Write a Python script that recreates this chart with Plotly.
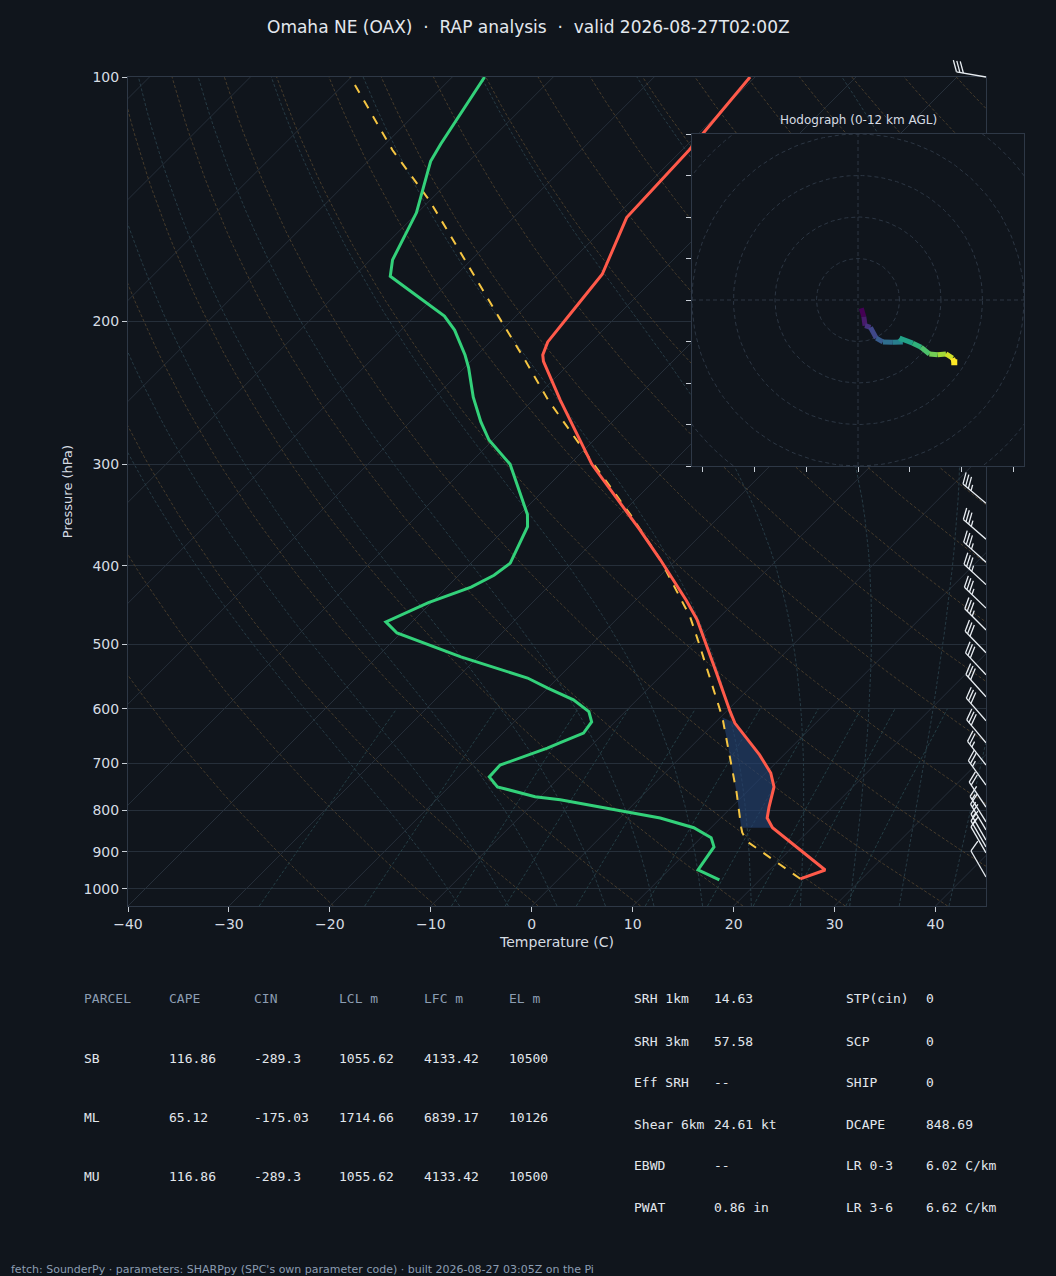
import numpy as np
import plotly.graph_objects as go
from plotly.colors import sample_colorscale

# ---------------- data ----------------
TITLE = "Omaha NE (OAX)  ·  RAP analysis  ·  valid 2026-08-27T02:00Z"
p_temp = [972, 948, 841, 818, 793, 749, 720, 684, 625, 605, 542, 466, 441, 393, 361, 332, 300,
          250, 224, 220, 212, 197, 175, 149, 123, 100]
t_temp = [23.9, 25.5, 16.1, 14.6, 13.7, 12.2, 10.5, 7.6, 2.0, 0.4, -4.8, -12.0, -15.0, -21.6, -26.6,
          -31.7, -37.8, -47.3, -52.8, -53.5, -54.3, -54.8, -55.6, -58.8, -59.3, -60.5]
p_dew = [975, 948, 888, 865, 841, 818, 777, 770, 749, 728, 704, 671, 661, 643, 623, 605, 585, 566,
         550, 518, 484, 469, 444, 425, 411, 397, 358, 346, 300, 280, 266, 248, 228, 220, 205, 197,
         176, 168, 147, 127, 121, 100]
t_dew = [16.0, 12.9, 12.2, 11.0, 8.3, 4.0, -7.7, -10.5, -15.2, -17.0, -17.1, -14.1, -13.4, -12.0,
         -12.3, -13.6, -16.3, -20.0, -23.0, -31.7, -40.4, -42.6, -40.3, -37.6, -36.5, -36.1, -38.0,
         -39.2, -45.9, -50.4, -53.0, -56.2, -59.6, -61.2, -64.7, -67.1, -76.4, -77.8, -80.1, -83.8,
         -84.5, -86.8]
p_parcel = [972, 875, 853, 841, 762, 651, 615, 498, 462, 393, 346, 300, 250, 223, 199, 142, 123, 100]
t_parcel = [23.9, 15.0, 13.6, 13.0, 9.1, 2.6, 0.2, -9.5, -13.0, -21.6, -29.0, -37.6, -48.5, -54.8,
            -61.2, -80.0, -88.7, -100.1]
# shaded layer between parcel and environment
p_shade_env = [841, 818, 793, 749, 720, 684, 625]
t_shade_env = [16.1, 14.6, 13.7, 12.2, 10.5, 7.6, 2.0]
p_shade_par = [615, 651, 762, 841]
t_shade_par = [0.2, 2.6, 9.1, 13.0]

# wind barbs
p_wind = [100, 335, 371, 396, 422, 451, 480, 512, 545, 580, 621, 661, 704, 745, 793, 827, 846,
          871, 888, 903, 967]
wdir = [280, 310, 311, 312, 313, 314, 315, 316, 317, 318, 319, 320, 322, 324, 326, 328, 329, 330,
        330, 330, 330]
wspd = [30, 35, 35, 35, 35, 35, 35, 30, 30, 30, 30, 30, 25, 25, 20, 15, 15, 15, 15, 10, 10]

# hodograph (u, v)
hodo_u = [0.8, 1.4, 1.7, 3.0, 4.4, 6.0, 8.4, 10.8, 10.0, 13.2, 15.2, 17.2, 19.2, 21.2, 22.8, 23.2]
hodo_v = [-2.0, -4.0, -6.2, -6.6, -9.2, -10.1, -10.2, -10.1, -9.2, -10.4, -11.4, -13.0, -13.2,
          -13.0, -14.0, -15.0]

# parameter tables
parcel_header = ["PARCEL", "CAPE", "CIN", "LCL m", "LFC m", "EL m"]
parcel_rows = [["SB", "116.86", "-289.3", "1055.62", "4133.42", "10500"],
               ["ML", "65.12", "-175.03", "1714.66", "6839.17", "10126"],
               ["MU", "116.86", "-289.3", "1055.62", "4133.42", "10500"]]
param_left = [("SRH 1km", "14.63"), ("SRH 3km", "57.58"), ("Eff SRH", "--"),
              ("Shear 6km", "24.61 kt"), ("EBWD", "--"), ("PWAT", "0.86 in")]
param_right = [("STP(cin)", "0"), ("SCP", "0"), ("SHIP", "0"), ("DCAPE", "848.69"),
               ("LR 0-3", "6.02 C/km"), ("LR 3-6", "6.62 C/km")]
FOOTER = "fetch: SounderPy · parameters: SHARPpy (SPC's own parameter code) · built 2026-08-27 03:05Z on the Pi"

# ---------------- geometry ----------------
W, H = 1056, 1276
L = 128
MAINTOP, MAINBOT = 77, 906
T = 50                      # paper top (above main plot, room for top barb)
PW, PH = 896, MAINBOT - T   # paper area
MAINH = MAINBOT - MAINTOP
MAINW = 858
PBOT = 1050.0
PTOP = 100.0
XMIN, XMAX = -40, 45
PXPERC = MAINW / (XMAX - XMIN)
PXPERDEC = MAINH / np.log10(PBOT / PTOP)
SKEW = PXPERDEC / PXPERC   # 45 degree skew, deg C per decade
HR = 40                    # hodograph half range


def skx(t, p):
    return np.asarray(t, float) + SKEW * np.log10(PBOT / np.asarray(p, float))


BG = "#10151c"
GRID = "#262f3a"
DASH = "3px,2px"
fig = go.Figure()

# isotherms
pp = np.array([PBOT, PTOP])
for t0 in range(-130, 50, 10):
    fig.add_trace(go.Scatter(x=skx([t0, t0], pp), y=pp, mode="lines",
                             line=dict(color=GRID, width=1), hoverinfo="skip", showlegend=False))
# dry adiabats
pl = np.logspace(np.log10(PBOT), np.log10(PTOP), 60)
for th in range(250, 480, 10):
    tt = th * (pl / 1000.0) ** 0.2857 - 273.15
    fig.add_trace(go.Scatter(x=skx(tt, pl), y=pl, mode="lines",
                             line=dict(color="#463b2b", width=1, dash=DASH),
                             hoverinfo="skip", showlegend=False))


# moist adiabats
def es(tc):
    return 6.112 * np.exp(17.67 * tc / (tc + 243.5))


def moist(t1000, plev):
    Rd, Cp, Lv, eps = 287.04, 1005.7, 2.501e6, 0.622
    out = []
    for direction in (1, -1):
        T_ = t1000 + 273.15
        p = 1000.0
        target = plev[plev <= 1000] if direction == 1 else plev[plev > 1000]
        target = sorted(target, reverse=(direction == 1))
        for pt in target:
            while abs(p - pt) > 1e-6:
                dp = max(-2.0, pt - p) if direction == 1 else min(2.0, pt - p)
                rs = eps * es(T_ - 273.15) / (p - es(T_ - 273.15))
                dtdp = (Rd * T_ + Lv * rs) / (Cp + Lv * Lv * rs * eps / (Rd * T_ * T_)) / p
                T_ += dtdp * dp
                p += dp
            out.append((pt, T_ - 273.15))
    out.sort(key=lambda a: -a[0])
    return np.array([a[0] for a in out]), np.array([a[1] for a in out])


pm = np.logspace(np.log10(PBOT), np.log10(PTOP), 50)
for t0 in range(-10, 46, 5):
    ps, ts = moist(t0, pm)
    fig.add_trace(go.Scatter(x=skx(ts, ps), y=ps, mode="lines",
                             line=dict(color="#263a44", width=1, dash=DASH),
                             hoverinfo="skip", showlegend=False))
# mixing ratio lines
pw = np.linspace(PBOT, 600, 20)
for w in [0.4, 1, 2, 3, 5, 8, 12, 16, 20, 28]:
    e = pw * (w / 1000.0) / (0.622 + w / 1000.0)
    a = np.log(e / 6.112)
    td = 243.5 * a / (17.67 - a)
    fig.add_trace(go.Scatter(x=skx(td, pw), y=pw, mode="lines",
                             line=dict(color="#233d44", width=1, dash=DASH),
                             hoverinfo="skip", showlegend=False))

# shading
fig.add_trace(go.Scatter(x=np.concatenate([skx(t_shade_env, p_shade_env), skx(t_shade_par, p_shade_par)]),
                         y=p_shade_env + p_shade_par, mode="lines", fill="toself",
                         fillcolor="rgba(35,65,110,0.65)", line=dict(width=0),
                         hoverinfo="skip", showlegend=False))
# profiles
fig.add_trace(go.Scatter(x=skx(t_parcel, p_parcel), y=p_parcel, mode="lines",
                         line=dict(color="#f5c542", width=2, dash="dash"), showlegend=False))
fig.add_trace(go.Scatter(x=skx(t_dew, p_dew), y=p_dew, mode="lines",
                         line=dict(color="#33d17a", width=3), showlegend=False))
fig.add_trace(go.Scatter(x=skx(t_temp, p_temp), y=p_temp, mode="lines",
                         line=dict(color="#ff5a4a", width=3), showlegend=False))

# hodograph (opaque panel background, rings, trace)
fig.add_trace(go.Scatter(x=[-HR, HR, HR, -HR, -HR], y=[-HR, -HR, HR, HR, -HR], mode="lines",
                         fill="toself", fillcolor=BG, line=dict(width=0),
                         xaxis="x2", yaxis="y2", hoverinfo="skip", showlegend=False))
th = np.linspace(0, 2 * np.pi, 181)
for r in [10, 20, 30, 40, 50, 60]:
    fig.add_trace(go.Scatter(x=r * np.cos(th), y=r * np.sin(th), mode="lines",
                             line=dict(color="#2c3643", width=1, dash="4px,3px"),
                             xaxis="x2", yaxis="y2", hoverinfo="skip", showlegend=False))
fig.add_trace(go.Scatter(x=[-HR, HR, None, 0, 0], y=[0, 0, None, -HR, HR], mode="lines",
                         line=dict(color="#2c3643", width=1, dash="4px,3px"),
                         xaxis="x2", yaxis="y2", hoverinfo="skip", showlegend=False))
cols = sample_colorscale("Viridis", list(np.linspace(0, 1, len(hodo_u) - 1)))
for i in range(len(hodo_u) - 1):
    fig.add_trace(go.Scatter(x=hodo_u[i:i + 2], y=hodo_v[i:i + 2], mode="lines",
                             line=dict(color=cols[i], width=5),
                             xaxis="x2", yaxis="y2", hoverinfo="skip", showlegend=False))
fig.add_trace(go.Scatter(x=[hodo_u[-1]], y=[hodo_v[-1]], mode="markers",
                         marker=dict(color="#fde725", size=6, symbol="square"),
                         xaxis="x2", yaxis="y2", hoverinfo="skip", showlegend=False))

# wind barbs on a pixel-space overlay axis
bx, by = [], []
STAFF = 30
for p, d, s in zip(p_wind, wdir, wspd):
    x0 = MAINW
    y0 = PXPERDEC * np.log10(PBOT / p)
    ang = np.deg2rad(90 - d)  # staff points toward where wind comes from
    ux, uy = np.cos(ang), np.sin(ang)
    x1, y1 = x0 + STAFF * ux, y0 + STAFF * uy
    bx += [x0, x1, None]
    by += [y0, y1, None]
    fa = ang - np.deg2rad(65)
    fx, fy = np.cos(fa), np.sin(fa)
    n_full, half = s // 10, (s % 10) >= 5
    pos = 0.0
    for k in range(n_full):
        sx, sy = x1 - pos * ux, y1 - pos * uy
        bx += [sx, sx + 12 * fx, None]
        by += [sy, sy + 12 * fy, None]
        pos += 3.5
    if half:
        if n_full == 0:
            pos += 3.5
        sx, sy = x1 - pos * ux, y1 - pos * uy
        bx += [sx, sx + 6 * fx, None]
        by += [sy, sy + 6 * fy, None]
fig.add_trace(go.Scatter(x=bx, y=by, mode="lines", line=dict(color="#e8edf2", width=1.3),
                         xaxis="x3", yaxis="y3", hoverinfo="skip", showlegend=False))


def px(x):
    return (x - L) / PW


def py(y):
    return (T + PH - y) / PH


ann = []
ann.append(dict(text=TITLE, x=px(528), y=py(27), xref="paper", yref="paper", showarrow=False,
                xanchor="center", yanchor="middle",
                font=dict(size=17, color="#e3e8ee", family="DejaVu Sans")))
ann.append(dict(text="Hodograph (0-12 km AGL)", x=px(858), y=py(120), xref="paper", yref="paper",
                xanchor="center", yanchor="middle",
                showarrow=False, font=dict(size=12, color="#d6dce3", family="DejaVu Sans")))
mono = "DejaVu Sans Mono"
colx = [84, 169, 254, 339, 424, 509]
rowy = [999, 1058, 1117, 1176]
for j, h in enumerate(parcel_header):
    ann.append(dict(text=h, x=px(colx[j] - 2), y=py(rowy[0]), xref="paper", yref="paper", xanchor="left",
                    yanchor="middle", showarrow=False, font=dict(size=13, color="#8c9db2", family=mono)))
for i, row in enumerate(parcel_rows):
    for j, v in enumerate(row):
        ann.append(dict(text=v, x=px(colx[j] - 2), y=py(rowy[i + 1]), xref="paper", yref="paper",
                        xanchor="left", yanchor="middle", showarrow=False,
                        font=dict(size=13, color="#e2e7ed", family=mono)))
prow = [999, 1041, 1082, 1124, 1165, 1207]
for (xa, xb), lst in (((632, 712), param_left), ((844, 924), param_right)):
    for i, (k, v) in enumerate(lst):
        ann.append(dict(text=k, x=px(xa), y=py(prow[i]), xref="paper", yref="paper", xanchor="left",
                        yanchor="middle", showarrow=False, font=dict(size=13, color="#e2e7ed", family=mono)))
        ann.append(dict(text=v, x=px(xb), y=py(prow[i]), xref="paper", yref="paper", xanchor="left",
                        yanchor="middle", showarrow=False, font=dict(size=13, color="#e2e7ed", family=mono)))
ann.append(dict(text=FOOTER, x=px(9), y=py(1269), xref="paper", yref="paper", xanchor="left",
                yanchor="middle", showarrow=False, font=dict(size=11, color="#8c9db2", family="DejaVu Sans")))

xd_main = [0, MAINW / PW]
yd_main = [0, MAINH / PH]
fig.update_layout(
    width=W, height=H, margin=dict(l=L, r=W - L - PW, t=T, b=H - T - PH),
    paper_bgcolor=BG, plot_bgcolor="rgba(0,0,0,0)", annotations=ann,
    font=dict(family="DejaVu Sans", color="#d6dce3", size=14),
    xaxis=dict(domain=xd_main, range=[XMIN, XMAX], tickvals=list(range(-40, 45, 10)),
               showgrid=False, zeroline=False, showline=True, linecolor="#2e3846", mirror=True,
               ticks="outside", ticklen=5, tickcolor="#c8ced6",
               title=dict(text="Temperature (C)", font=dict(size=14), standoff=6)),
    yaxis=dict(domain=yd_main, type="log", range=[np.log10(PBOT), np.log10(PTOP)],
               tickvals=[100, 200, 300, 400, 500, 600, 700, 800, 900, 1000],
               ticktext=["100", "200", "300", "400", "500", "600", "700", "800", "900", "1000"],
               showgrid=True, gridcolor=GRID, zeroline=False, showline=True, linecolor="#2e3846",
               mirror=True, ticks="outside", ticklen=5, tickcolor="#c8ced6",
               title=dict(text="Pressure (hPa)", font=dict(size=13), standoff=8)),
    xaxis3=dict(domain=xd_main, range=[0, MAINW], visible=False, anchor="y3"),
    yaxis3=dict(domain=[0, 1], range=[0, PH], visible=False, anchor="x3"),
    xaxis2=dict(domain=[px(692), px(1024)], range=[-HR, HR], anchor="y2",
                tickvals=[-37.5, -25, -12.5, 0, 12.5, 25, 37.5], showticklabels=False,
                ticks="outside", ticklen=5, tickcolor="#c8ced6", showgrid=False, zeroline=False,
                showline=True, linecolor="#2e3846", mirror=True),
    yaxis2=dict(domain=[py(466), py(134)], range=[-HR, HR], anchor="x2",
                tickvals=list(range(-40, 41, 10)), showticklabels=False,
                ticks="outside", ticklen=5, tickcolor="#c8ced6", showgrid=False, zeroline=False,
                showline=True, linecolor="#2e3846", mirror=True),
)
fig.write_html("out.html", config={"displayModeBar": False},
               post_script="document.body.style.margin='0';document.body.style.background='#10151c';")
